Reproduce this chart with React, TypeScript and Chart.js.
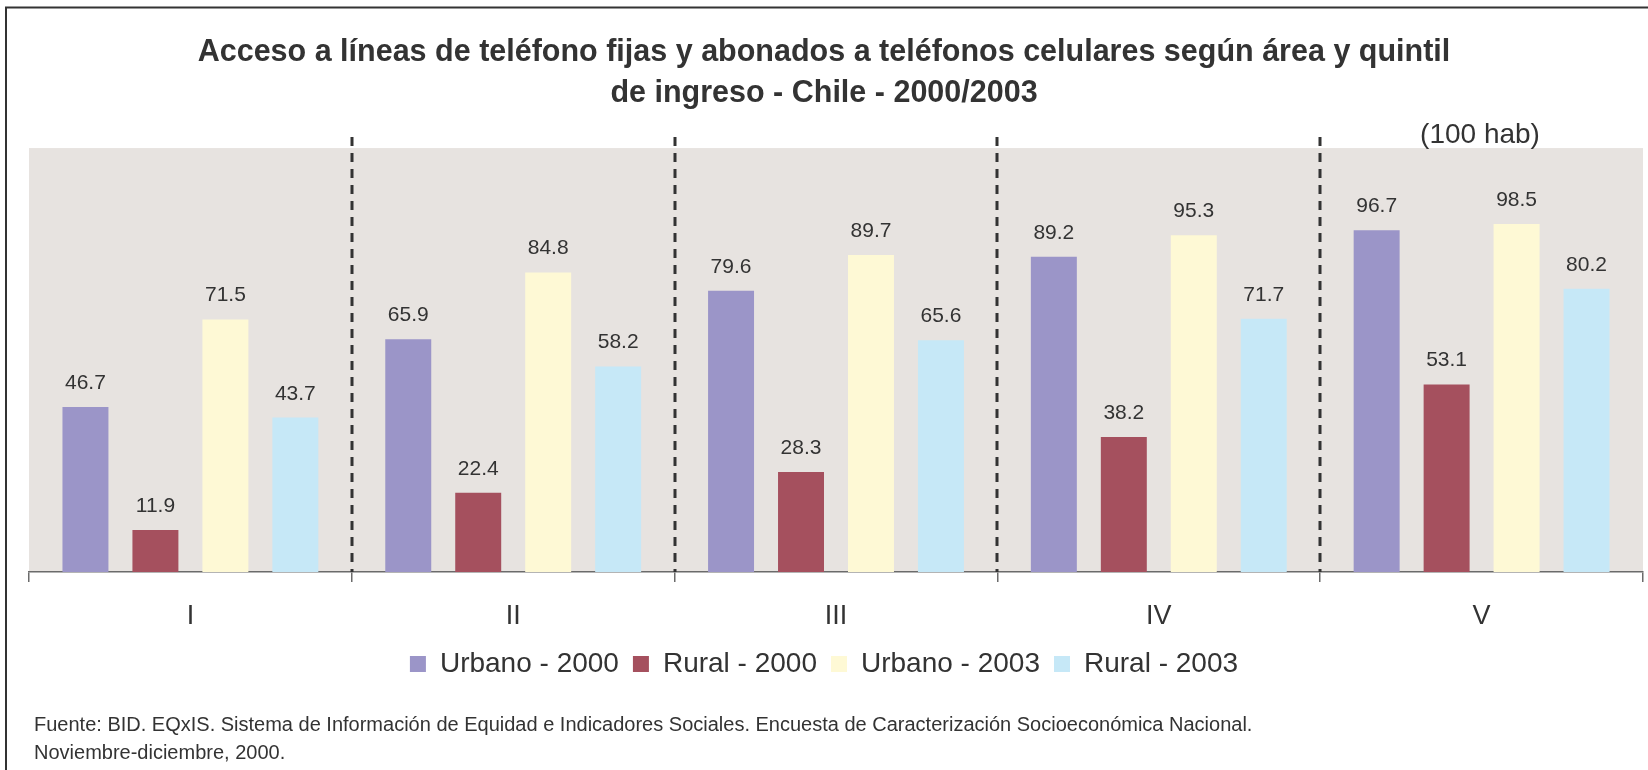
import React, { useEffect, useRef } from "react";
import { Chart, registerables } from "chart.js";

Chart.register(...registerables);

const categories = ["I", "II", "III", "IV", "V"];
const urbano2000 = [46.7, 65.9, 79.6, 89.2, 96.7];
const rural2000 = [11.9, 22.4, 28.3, 38.2, 53.1];
const urbano2003 = [71.5, 84.8, 89.7, 95.3, 98.5];
const rural2003 = [43.7, 58.2, 65.6, 71.7, 80.2];
const seriesNames = ["Urbano - 2000", "Rural - 2000", "Urbano - 2003", "Rural - 2003"];
const seriesColors = ["#9B95C8", "#A5505E", "#FEF9D5", "#C6E8F7"];
const titleLines = [
  "Acceso a líneas de teléfono fijas y abonados a teléfonos celulares según área y quintil",
  "de ingreso - Chile - 2000/2003",
];
const unitLabel = "(100 hab)";
const sourceLines = [
  "Fuente: BID. EQxIS. Sistema de Información de Equidad e Indicadores Sociales. Encuesta de Caracterización Socioeconómica Nacional.",
  "Noviembre-diciembre, 2000.",
];

const FONT = "'Liberation Sans', Arial, Helvetica, sans-serif";
const TEXT = "#333333";

const decor = {
  id: "decor",
  beforeDraw(chart: any) {
    const { ctx, chartArea } = chart;
    const { left, right, top, bottom } = chartArea;
    ctx.save();
    ctx.fillStyle = "#ffffff";
    ctx.fillRect(0, 0, chart.width, chart.height);
    ctx.fillStyle = "#E7E3E0";
    ctx.fillRect(left, top, right - left, bottom - top);
    ctx.strokeStyle = "#333333";
    ctx.lineWidth = 2;
    ctx.beginPath();
    ctx.moveTo(6, chart.height);
    ctx.lineTo(6, 7.5);
    ctx.lineTo(chart.width, 7.5);
    ctx.stroke();
    ctx.restore();
  },
  afterDatasetsDraw(chart: any) {
    const { ctx, chartArea } = chart;
    const { top, bottom } = chartArea;
    const xs = chart.scales.x;
    ctx.save();
    // dashed separators
    ctx.strokeStyle = "#333333";
    ctx.lineWidth = 3;
    ctx.setLineDash([9, 7]);
    for (let i = 1; i < categories.length; i++) {
      const bx = (xs.getPixelForTick(i - 1) + xs.getPixelForTick(i)) / 2;
      ctx.beginPath();
      ctx.moveTo(Math.round(bx), top - 11);
      ctx.lineTo(Math.round(bx), bottom);
      ctx.stroke();
    }
    ctx.setLineDash([]);
    // value labels
    ctx.fillStyle = TEXT;
    ctx.font = `21px ${FONT}`;
    ctx.textAlign = "center";
    ctx.textBaseline = "alphabetic";
    chart.data.datasets.forEach((ds: any, di: number) => {
      const meta = chart.getDatasetMeta(di);
      meta.data.forEach((bar: any, i: number) => {
        ctx.fillText(Number(ds.data[i]).toFixed(1), bar.x, bar.y - 18);
      });
    });
    // unit label
    ctx.font = `28px ${FONT}`;
    ctx.textBaseline = "middle";
    ctx.fillText(unitLabel, 1480, 135);
    // source
    ctx.font = `20px ${FONT}`;
    ctx.textAlign = "left";
    sourceLines.forEach((s, i) => ctx.fillText(s, 34, 725 + i * 28));
    ctx.restore();
  },
};

export default function App() {
  const ref = useRef<HTMLCanvasElement | null>(null);
  useEffect(() => {
    document.body.style.margin = "0";
    const seriesData = [urbano2000, rural2000, urbano2003, rural2003];
    const chart = new Chart(ref.current as HTMLCanvasElement, {
      type: "bar",
      data: {
        labels: categories,
        datasets: seriesData.map((d, i) => ({
          label: seriesNames[i],
          data: d,
          backgroundColor: seriesColors[i],
          borderWidth: 0,
          categoryPercentage: 0.867,
          barPercentage: 0.657,
        })),
      },
      options: {
        animation: false,
        responsive: false,
        layout: { padding: { left: 5, right: 5, top: 0, bottom: 82 } },
        plugins: {
          tooltip: { enabled: false },
          title: {
            display: true,
            text: titleLines,
            color: TEXT,
            font: { family: FONT, size: 30.5, weight: "bold", lineHeight: 1.345 },
            padding: { top: 32.5, bottom: 33.5 },
          },
          legend: {
            position: "bottom",
            labels: {
              boxWidth: 16,
              boxHeight: 16,
              padding: 14,
              color: TEXT,
              font: { family: FONT, size: 28 },
            },
          },
        },
        scales: {
          x: {
            border: { display: true, color: "#6b6b6b", width: 1.5 },
            grid: {
              display: true,
              drawOnChartArea: false,
              drawTicks: true,
              tickLength: 10,
              color: "#6b6b6b",
              lineWidth: 1.5,
              offset: true,
            },
            ticks: { color: TEXT, padding: 21.5, font: { family: FONT, size: 27, lineHeight: 1.0 } },
            afterFit(scale: any) {
              scale.height = 64;
            },
          },
          y: {
            display: true,
            min: 0,
            max: 120,
            grid: { display: false },
            border: { display: false },
            ticks: { display: false },
            afterFit(scale: any) {
              scale.width = 24;
            },
          },
        },
      },
      plugins: [decor],
    } as any);
    return () => chart.destroy();
  }, []);
  return (
    <div style={{ position: "absolute", left: 0, top: 0, width: 1648, height: 770 }}>
      <canvas ref={ref} width={1648} height={770} />
    </div>
  );
}
